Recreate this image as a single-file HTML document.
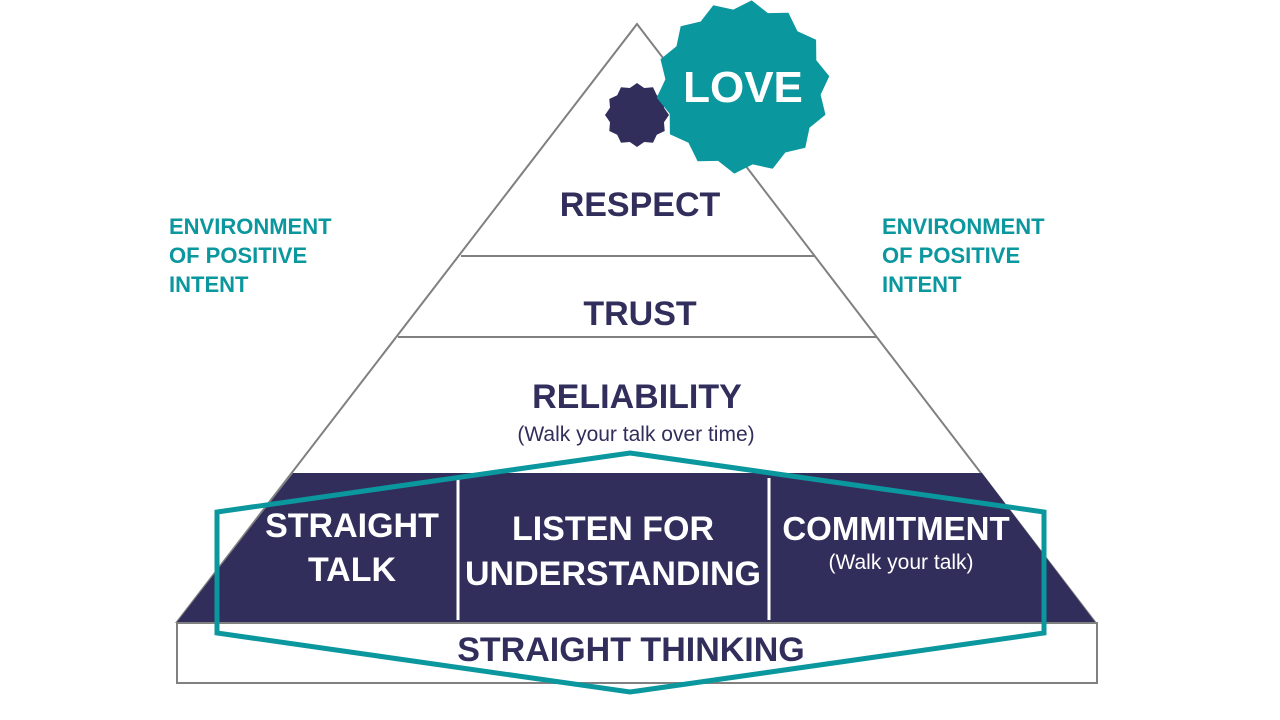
<!DOCTYPE html>
<html><head><meta charset="utf-8"><style>
html,body{margin:0;padding:0;background:#fff;width:1280px;height:720px;overflow:hidden}
svg text{font-family:"Liberation Sans",sans-serif;font-weight:bold}
</style></head><body>
<svg id="s" width="1280" height="720" viewBox="0 0 1280 720">
<polygon points="637,24 177,622 1095,622" fill="#fff" stroke="#808080" stroke-width="2"/>
<polygon points="293,473 982,473 1095,622 177,622" fill="#322e5c"/>
<line x1="461" y1="256" x2="815" y2="256" stroke="#808080" stroke-width="2"/>
<line x1="398" y1="337" x2="877" y2="337" stroke="#808080" stroke-width="2"/>
<line x1="458" y1="478" x2="458" y2="620" stroke="#fff" stroke-width="3"/>
<line x1="769" y1="478" x2="769" y2="620" stroke="#fff" stroke-width="3"/>
<rect x="177" y="623" width="920" height="60" fill="#fff" stroke="#808080" stroke-width="2"/>
<polygon points="630,453 1044,512 1044,633 630,692 217,633 217,512" fill="none" stroke="#0b979e" stroke-width="5"/>
<g id="bursts"></g>
<g fill="#322e5c" text-anchor="middle">
<text x="640" y="216" font-size="34">RESPECT</text>
<text x="640" y="325" font-size="34">TRUST</text>
<text x="637" y="408" font-size="34">RELIABILITY</text>
<text x="636" y="441" font-size="21" style="font-weight:normal">(Walk your talk over time)</text>
<text x="631" y="661" font-size="34">STRAIGHT THINKING</text>
</g>
<g fill="#fff" text-anchor="middle">
<text x="352" y="537" font-size="34">STRAIGHT</text>
<text x="352" y="581" font-size="34">TALK</text>
<text x="613" y="540" font-size="34">LISTEN FOR</text>
<text x="613" y="585" font-size="34" textLength="296" lengthAdjust="spacingAndGlyphs">UNDERSTANDING</text>
<text x="896" y="540" font-size="33">COMMITMENT</text>
<text x="901" y="569" font-size="21" style="font-weight:normal">(Walk your talk)</text>
</g>
<g fill="#0b979e" font-size="22">
<text x="169" y="234">ENVIRONMENT</text><text x="169" y="263">OF POSITIVE</text><text x="169" y="292">INTENT</text>
<text x="882" y="234">ENVIRONMENT</text><text x="882" y="263">OF POSITIVE</text><text x="882" y="292">INTENT</text>
</g>
</svg>
<script>
function burst(cx,cy,ro,ri,n,rot,fill){
 var p=[];for(var i=0;i<2*n;i++){var a=rot+Math.PI*i/n,r=i%2?ri:ro;p.push((cx+r*Math.sin(a)).toFixed(1)+","+(cy-r*Math.cos(a)).toFixed(1));}
 return '<polygon points="'+p.join(" ")+'" fill="'+fill+'"/>';
}
document.getElementById("bursts").innerHTML=
 burst(637,115,32,28,12,0,"#322e5c")+
 burst(743,87,87,78,14,0.1,"#0b979e")+
 '<text x="743" y="102" font-size="44" fill="#fff" text-anchor="middle" style="font-family:Liberation Sans,sans-serif;font-weight:bold">LOVE</text>';
</script>
</body></html>
